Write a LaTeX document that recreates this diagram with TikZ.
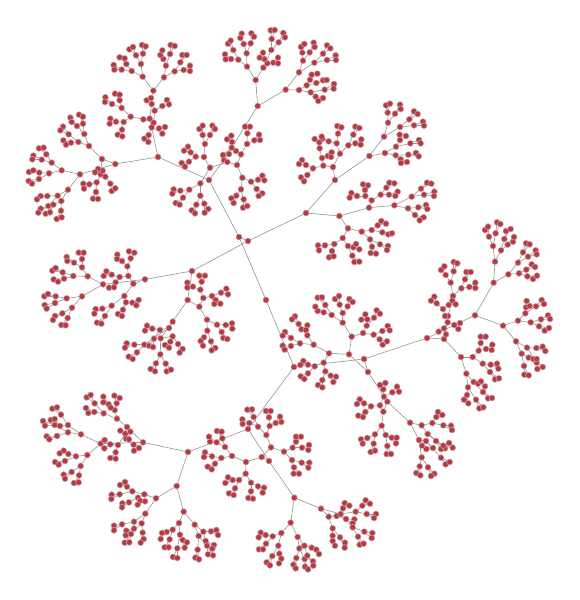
\documentclass[tikz,border=0pt]{standalone}
\usepackage{tikz}
\definecolor{vertexred}{HTML}{B63A43}
\definecolor{vertexrim}{HTML}{C8A8AA}
\definecolor{branchgray}{HTML}{949494}
\tikzset{
	vertex/.style={circle,fill=vertexred,draw=vertexrim,line width=.5pt,inner sep=0pt,minimum size=6pt},
	branch/.style={draw=branchgray,line width=.6pt},
}
% first pass lays the branches, second pass the vertices on top
\newcommand{\forkline}[4]{\coordinate (#1) at (#3,#4);\draw[branch] (#2) -- (#1);}
\newcommand{\forkdot}[4]{\node[vertex] (#1) at (#3,#4) {};}
\newcommand{\forks}[1]{\foreach \n/\p/\x/\y in {#1}{\fork{\n}{\p}{\x}{\y}}}
\newcommand{\twigs}[2]{\foreach \x/\y/\ax/\ay/\bx/\by [count=\i] in {#2}{%
	\fork{#1\i}{#1}{\x}{\y}\fork{#1\i a}{#1\i}{\ax}{\ay}\fork{#1\i b}{#1\i}{\bx}{\by}}}
\newcommand{\bunch}[5]{\foreach \x/\y/\lx/\ly/\rx/\ry in {#3}{%
	\fork{#1}{#2}{\x}{\y}\fork{#1l}{#1}{\lx}{\ly}\fork{#1r}{#1}{\rx}{\ry}}%
	\twigs{#1l}{#4}\twigs{#1r}{#5}}
\newcommand{\treedata}{%
	% trunk
	\forks{ca/root/239/237,cb/root/294/367,da/ca/209/180,db/ca/248/241,dc/cb/364/359,dd/cb/248/429,
		ea/da/158/157,eb/da/224/160,ec/db/192/271,ed/db/306/213,ee/dc/427/338,ef/dc/368/372,eg/dd/188/452,eh/dd/269/461}
	% upper left
	\begin{scope}[shift={(10,20)},scale=.33333]
		\forks{f1/ea/316/432,f2/ea/419/296,g11/f1/210/463,g12/f1/276/417,g21/f2/430/212,g22/f2/400/298}
		\bunch{b111}{g11}{155/451/117/460/125/428}{88/458/57/456/70/451,87/477/56/483/66/491}{95/419/70/407/67/418,109/403/87/385/101/383}
		\bunch{b112}{g11}{174/509/143/527/154/543}{112/528/92/528/81/538,115/558/92/566/85/578}{130/554/107/581/120/577,153/572/140/597/155/592}
		\bunch{b121}{g12}{237/378/205/366/223/342}{183/368/160/361/168/374,176/343/159/320/151/331}{201/318/181/293/185/306,219/311/207/284/219/290}
		\bunch{b122}{g12}{272/463/260/487/286/470}{238/493/220/491/222/506,258/516/249/536/264/537}{278/452/264/447/255/457,301/491/305/513/316/505}
		\bunch{b211}{g21}{398/170/393/132/365/153}{378/106/358/88/369/81,399/101/396/75/407/79}{349/132/329/112/344/115,335/149/311/135/313/149}
		\bunch{b212}{g21}{462/172/468/137/494/154}{460/117/451/105/457/91,480/102/482/75/494/78}{511/127/517/105/530/105,521/150/540/137/540/153}
		\bunch{b221}{g22}{362/290/335/264/341/306}{306/252/286/232/285/246,329/241/315/221/329/224}{318/305/301/296/299/311,336/329/323/344/337/349}
		\bunch{b222}{g22}{431/308/434/272/425/322}{425/252/410/241/423/234,457/258/471/240/477/253}{457/341/447/325/465/321,416/345/403/356/415/366}
	\end{scope}
	% top
	\begin{scope}[shift={(160,20)},scale=.33333]
		\forks{f3/eb/202/426,f4/eb/293/258,g31/f3/150/443,g32/f3/231/435,g41/f4/287/180,g42/f4/377/209}
		\bunch{b311}{g31}{121/490/88/509/121/527}{61/512/41/508/37/521,69/533/47/549/59/554}{109/554/95/571/105/580,133/551/145/567/134/578}
		\bunch{b312}{g31}{132/411/107/410/135/372}{92/397/72/392/84/380,87/425/65/429/75/440}{128/345/118/327/128/317,150/345/157/317/165/327}
		\bunch{b321}{g32}{243/403/228/393/261/372}{215/383/189/405/207/402,216/366/201/358/214/347}{262/340/255/320/270/320,283/361/297/344/300/360}
		\bunch{b322}{g32}{247/473/273/485/243/508}{294/479/307/467/313/481,290/507/307/520/296/528}{229/527/214/535/221/549,251/538/249/563/262/558}
		\bunch{b411}{g41}{261/140/235/119/260/100}{213/117/195/103/197/118,220/90/204/71/212/62}{251/72/245/41/241/54,272/70/274/40/282/50}
		\bunch{b412}{g41}{310/143/322/130/334/90}{340/128/354/113/354/130,313/117/299/113/309/98}{335/57/332/31/344/30,356/67/370/39/375/52}
		\bunch{b421}{g42}{417/157/429/122/463/128}{427/98/423/81/433/72,449/97/461/68/464/81}{489/101/501/76/511/85,501/120/527/106/528/120}
		\bunch{b422}{g42}{417/210/440/196/452/217}{450/179/455/164/472/161,469/189/489/181/500/180}{494/209/522/192/521/206,467/230/475/243/489/234}
	\end{scope}
	% upper right
	\begin{scope}[shift={(290,90)},scale=.33333]
		\forks{f7/ed/135/270,f8/ed/148/378,g71/f7/129/231,g72/f7/238/198,g81/f8/237/353,g82/f8/174/415}
		\bunch{b711}{g71}{100/227/69/235/96/204}{48/225/36/210/27/222,52/255/33/262/42/274}{89/175/88/157/74/147,113/198/125/187/123/201}
		\bunch{b712}{g71}{150/191/140/160/175/166}{144/131/142/108/154/112,116/154/97/146/95/140}{190/134/196/110/208/114,196/160/214/148/212/164}
		\bunch{b721}{g72}{282/140/294/98/330/111}{293/68/288/46/300/41,315/71/330/44/332/57}{358/88/372/64/383/72,372/106/399/95/402/107}
		\bunch{b722}{g72}{285/189/318/170/317/196}{330/150/329/134/348/138,361/160/387/150/392/160}{355/194/378/189/386/199,332/208/333/219/351/216}
		\bunch{b811}{g81}{245/331/226/318/272/314}{201/318/184/309/179/323,225/300/219/283/234/286}{289/293/298/278/313/280,297/314/323/305/316/318}
		\bunch{b812}{g81}{313/346/365/320/354/355}{393/296/411/278/424/281,402/314/433/305/432/318}{385/352/408/345/412/357,375/375/401/382/389/391}
		\bunch{b821}{g82}{215/425/245/420/240/448}{263/406/274/393/288/401,277/427/295/433/306/430}{246/470/242/489/258/491,270/463/294/468/291/480}
		\bunch{b822}{g82}{158/444/133/462/174/468}{105/466/84/466/87/481,126/483/117/502/131/499}{187/497/193/516/208/515,190/472/198/462/208/478}
	\end{scope}
	% left
	\begin{scope}[shift={(30,235)},scale=.33333]
		\forks{f5/ec/345/133,f6/ec/473/195,g51/f5/219/148,g52/f5/310/146,g61/f6/428/260,g62/f6/508/215}
		\bunch{b511}{g51}{173/124/130/123/156/97}{98/112/67/107/77/99,102/131/71/133/84/140}{132/83/110/66/112/78,156/72/146/53/161/53}
		\bunch{b512}{g51}{156/184/110/190/126/218}{77/184/43/184/54/177,75/204/44/210/50/221}{97/235/75/243/69/255,113/249/94/270/107/271}
		\bunch{b521}{g52}{295/123/269/126/292/94}{245/119/229/109/221/123,257/142/237/158/252/157}{276/78/262/59/261/72,302/70/297/49/313/53}
		\bunch{b522}{g52}{283/183/245/212/288/202}{217/221/197/222/193/236,225/243/201/263/214/266}{279/224/264/237/276/243,307/203/326/195/319/211}
		\bunch{b611}{g61}{417/279/390/285/343/329}{367/281/351/272/345/287,372/311/357/332/369/336}{313/329/290/325/285/338,321/352/296/365/308/372}
		\bunch{b612}{g61}{392/310/391/358/428/304}{378/385/362/402/375/409,407/386/410/409/423/404}{421/320/405/330/417/338,444/327/458/342/449/353}
		\bunch{b621}{g62}{520/189/511/164/546/183}{489/155/472/143/472/158,515/140/508/122/525/122}{573/173/589/161/594/178,557/195/553/207/571/206}
		\bunch{b622}{g62}{531/254/561/269/532/287}{587/270/606/265/607/281,575/291/580/309/592/312}{522/307/512/318/519/332,543/319/556/339/545/346}
	\end{scope}
	% centre right
	\begin{scope}[shift={(270,280)},scale=.33333]
		\forks{f11/ef/237/223,f12/ef/352/365,g111/f11/177/220,g112/f11/245/170,g121/f12/340/395,g122/f12/420/428}
		\bunch{b1111}{g111}{131/194/90/190/112/166}{63/174/45/156/38/167,63/198/38/197/44/209}{86/132/75/109/66/118,94/148/112/136/108/150}
		\bunch{b1112}{g111}{161/248/134/259/166/274}{114/254/100/243/91/255,114/280/92/289/103/297}{157/300/144/315/157/322,182/287/198/290/190/306}
		\bunch{b1121}{g112}{218/128/185/105/218/99}{161/97/143/93/136/80,166/75/143/53/156/52}{209/74/195/57/207/48,233/79/238/57/248/66}
		\bunch{b1122}{g112}{279/159/290/137/311/164}{292/118/274/119/286/103,312/113/320/91/330/101}{337/153/353/138/359/151,329/178/338/194/351/184}
		\bunch{b1211}{g121}{330/376/342/350/303/379}{340/328/330/315/346/309,367/337/381/320/387/335}{282/370/269/358/261/372,286/396/265/407/279/411}
		\bunch{b1212}{g121}{335/437/315/463/347/465}{292/474/273/478/278/491,311/491/302/516/315/512}{365/473/380/473/378/490,352/498/350/522/363/522}
		\bunch{b1221}{g122}{455/436/487/429/473/462}{499/411/504/396/517/405,520/436/543/437/546/450}{498/483/525/505/513/507,520/497/537/489/548/503}
		\bunch{b1222}{g122}{447/480/468/483/455/532}{513/533/527/553/539/546,489/504/469/507/456/497}{449/559/439/579/451/586,474/562/493/581/483/588}
	\end{scope}
	% far right
	\begin{scope}[shift={(420,210)},scale=.33333]
		\forks{f9/ee/165/316,f10/ee/72/387,g91/f9/221/218,g92/f9/249/347,g101/f10/123/441,g102/f10/84/318}
		\bunch{b911}{g91}{225/155/219/108/243/121}{207/80/195/60/204/50,227/70/231/37/241/42}{253/87/258/63/272/57,263/104/279/95/282/81}
		\bunch{b912}{g91}{265/193/294/158/297/190}{309/127/318/100/329/103,324/140/347/121/350/133}{319/179/335/163/345/171,322/199/339/207/351/197}
		\bunch{b921}{g92}{294/332/316/310/332/337}{318/292/320/273/329/288,348/289/365/270/372/282}{363/328/384/316/390/327,357/349/374/362/387/354}
		\bunch{b922}{g92}{288/394/321/413/305/431}{349/414/368/410/376/423,350/458/368/471/352/477}{312/468/313/494/326/496,326/443/340/447/350/447}
		\bunch{b1011}{g101}{158/441/188/461/176/422}{212/464/231/461/235/476,210/486/225/508/237/505}{182/399/182/380/197/380,198/417/217/404/215/420}
		\bunch{b1012}{g101}{139/491/161/516/144/532}{174/521/183/514/195/529,189/546/204/565/216/564}{141/555/132/569/145/580,168/569/178/595/190/592}
		\bunch{b1021}{g102}{99/258/92/218/124/235}{77/195/63/180/73/169,101/184/101/156/112/160}{135/208/139/186/152/186,148/231/166/218/166/234}
		\bunch{b1022}{g102}{75/318/69/297/83/337}{50/280/43/260/33/272,86/285/97/272/107/283}{103/345/120/339/115/357,72/355/56/365/78/373}
	\end{scope}
	% lower left
	\begin{scope}[shift={(30,385)},scale=.33333]
		\forks{f13/eg/339/172,f14/eg/440/303,g131/f13/291/126,g132/f13/212/176,g141/f14/378/340,g142/f14/461/380}
		\bunch{b1311}{g131}{261/101/221/85/254/75}{193/81/175/84/168/69,194/55/170/37/182/30}{236/58/220/35/220/52,260/55/253/32/269/39}
		\forks{x1311/b1311r/242/68}
		\bunch{b1312}{g131}{286/146/264/180/288/161}{241/178/224/165/223/190,257/202/241/219/257/221}{311/179/312/197/327/189,297/163/301/140/271/137}
		\bunch{b1321}{g132}{153/148/114/142/114/120}{81/153/50/154/58/163,74/120/39/108/45/122}{93/89/67/71/81/67,90/123/62/105/74/102}
		\bunch{b1322}{g132}{172/210/138/214/152/243}{115/207/101/197/89/205,105/228/75/231/86/239}{125/261/101/269/105/281,147/271/132/294/146/292}
		\bunch{b1411}{g141}{343/328/307/319/324/338}{269/328/245/329/244/342,291/305/270/300/285/291}{297/352/277/355/276/367,330/347/345/349/323/359}
		\bunch{b1412}{g141}{346/386/312/410/335/415}{276/418/252/422/252/436,312/431/289/437/287/451}{303/447/284/473/298/472,338/443/341/462/332/473}
		\bunch{b1421}{g142}{447/414/428/434/450/449}{410/441/396/444/392/462,419/463/404/487/416/487}{458/465/471/472/464/488,442/490/429/516/442/519}
		\bunch{b1422}{g142}{494/419/520/440/506/453}{543/439/559/435/564/450,527/468/552/480/547/491}{503/494/496/518/507/523,531/482/534/508/549/511}
	\end{scope}
	% bottom
	\begin{scope}[shift={(195,400)},scale=.33333]
		\forks{f15/eh/200/171,f16/eh/298/293,g151/f15/153/186,g152/f15/228/142,g161/f16/287/368,g162/f16/378/326}
		\bunch{b1511}{g151}{111/168/90/141/79/174}{65/127/45/125/42/110,82/115/66/93/80/95}{51/169/30/157/27/171,60/191/38/200/50/208}
		\bunch{b1512}{g151}{152/221/132/240/168/248}{113/240/99/232/91/249,120/265/102/280/116/285}{168/274/160/294/174/296,189/259/207/263/203/278}
		\bunch{b1521}{g152}{214/105/189/80/224/78}{176/51/157/29/171/28,163/69/142/58/143/72}{222/52/213/33/227/33,242/69/255/50/259/66}
		\bunch{b1522}{g152}{267/155/293/143/291/180}{303/125/303/110/318/110,321/143/342/135/340/150}{320/188/343/188/340/203,297/202/296/221/312/221}
		\bunch{b1611}{g161}{259/399/233/409/250/437}{212/405/197/398/191/412,213/431/192/448/204/448}{232/468/215/487/225/496,253/461/259/476/252/490}
		\bunch{b1612}{g161}{308/411/313/445/328/437}{304/474/295/494/302/505,329/477/330/500/339/508}{350/443/364/449/372/462,337/467/354/484/355/497}
		\bunch{b1621}{g162}{401/350/413/385/425/348}{413/407/413/423/420/437,435/412/450/428/449/443}{444/325/449/309/463/317,453/357/478/358/473/370}
		\bunch{b1622}{g162}{437/342/482/335/473/382}{502/317/512/301/525/311,515/342/543/342/537/354}{508/395/532/399/530/414,489/410/494/434/506/431}
	\end{scope}
}
\begin{document}
\begin{tikzpicture}[x=1pt,y=-1pt]
	\useasboundingbox (0,0) rectangle (579,600);
	\coordinate (root) at (266,300);

	% branches first
	\let\fork\forkline
	\treedata

	% vertices on top
	\let\fork\forkdot
	\node[vertex] (root) at (266,300) {};
	\treedata
\end{tikzpicture}
\end{document}
